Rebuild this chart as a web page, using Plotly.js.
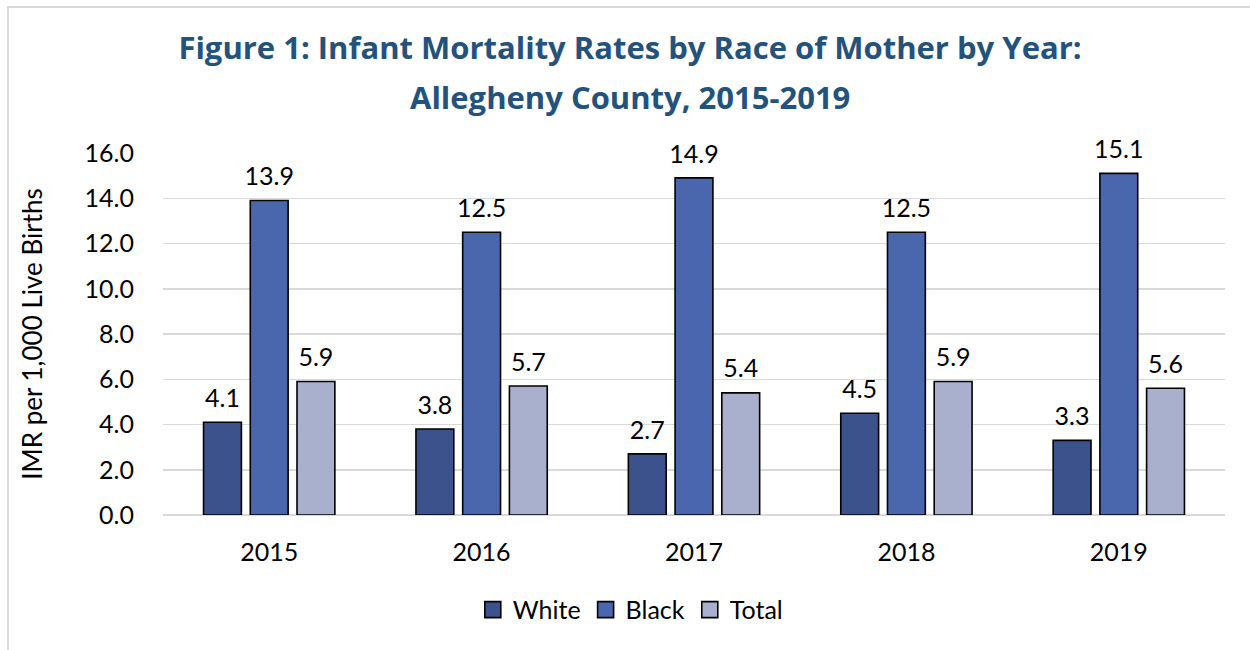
<!DOCTYPE html>
<html><head><meta charset="utf-8">
<script src="https://cdn.plot.ly/plotly-3.0.1.min.js"></script>
<style>
html,body{margin:0;padding:0;background:#fff;}
#chart{width:1250px;height:650px;}
#frame{position:absolute;left:7px;top:6px;width:1260px;height:660px;border:2px solid #d9d9d9;pointer-events:none;box-sizing:border-box;}
</style></head>
<body>
<div id="chart"></div>
<div id="frame"></div>
<script>
const years = ['2015','2016','2017','2018','2019'];
const white = [4.1, 3.8, 2.7, 4.5, 3.3];
const black = [13.9, 12.5, 14.9, 12.5, 15.1];
const total = [5.9, 5.7, 5.4, 5.9, 5.6];
const yTicks = [0, 2, 4, 6, 8, 10, 12, 14, 16];
const titleLine1 = 'Figure 1: Infant Mortality Rates by Race of Mother by Year:';
const titleLine2 = 'Allegheny County, 2015-2019';

const FONT = 'Lato, "Open Sans", sans-serif';
const TFONT = '"Open Sans", Lato, sans-serif';
const series = [
  {name:'White', vals:white, color:'#3C528D'},
  {name:'Black', vals:black, color:'#4A67AE'},
  {name:'Total', vals:total, color:'#A9B0CD'}
];
const data = [];
series.forEach(s => {
  data.push({type:'bar', name:s.name, x:years, y:s.vals, offsetgroup:s.name, showlegend:false,
    marker:{color:s.color, line:{color:'#000', width:1.6}}, hoverinfo:'none'});
});
series.forEach(s => {
  data.push({type:'scatter', mode:'markers+text', x:years, y:s.vals, offsetgroup:s.name, showlegend:false,
    text:s.vals.map(v=>v.toFixed(1)), textposition:'top center', cliponaxis:false,
    textfont:{family:FONT, size:25, color:'#000'},
    marker:{size:13, opacity:0}, hoverinfo:'none'});
});
series.forEach(s => {
  data.push({type:'scatter', mode:'markers', name:s.name, x:[null], y:[null],
    marker:{symbol:'square', size:16, color:s.color, line:{color:'#000', width:1.6}}, hoverinfo:'none'});
});
const layout = {
  width:1250, height:650,
  margin:{l:163, r:25, t:153, b:135},
  paper_bgcolor:'#fff', plot_bgcolor:'#fff',
  font:{family:FONT, size:25, color:'#000'},
  title:{text:titleLine1,
    font:{family:TFONT, size:31, color:'#23527C', weight:'bold'}, x:0.504, xanchor:'center', y:0.926, yanchor:'middle'},
  annotations:[{text:titleLine2, xref:'paper', yref:'paper', x:0.44, xanchor:'center', y:1+ (153-97)/362, yanchor:'middle',
    showarrow:false, font:{family:TFONT, size:31, color:'#23527C', weight:'bold'}}],
  barmode:'group', bargap:0.34, bargroupgap:0.19,
  scattermode:'group', scattergap:0.34,
  xaxis:{type:'category', showgrid:false, showline:false, ticks:'', tickfont:{size:25}, ticklabelstandoff:20},
  yaxis:{range:[0,16], tickvals:yTicks, ticktext:yTicks.map(v=>v.toFixed(1)), tickfont:{size:25},
    showgrid:true, gridcolor:'#d9d9d9', gridwidth:1.5, zeroline:true, zerolinecolor:'#d9d9d9', zerolinewidth:1.5,
    ticklabelstandoff:28, automargin:true,
    title:{text:'IMR per 1,000 Live Births', font:{size:26}, standoff:34}},
  legend:{orientation:'h', x:0.44, xanchor:'center', y:-0.262, yanchor:'middle', font:{size:25}, traceorder:'normal', itemwidth:30},
  showlegend:true
};
Plotly.newPlot('chart', data, layout, {displayModeBar:false, staticPlot:true});
</script>
</body></html>
